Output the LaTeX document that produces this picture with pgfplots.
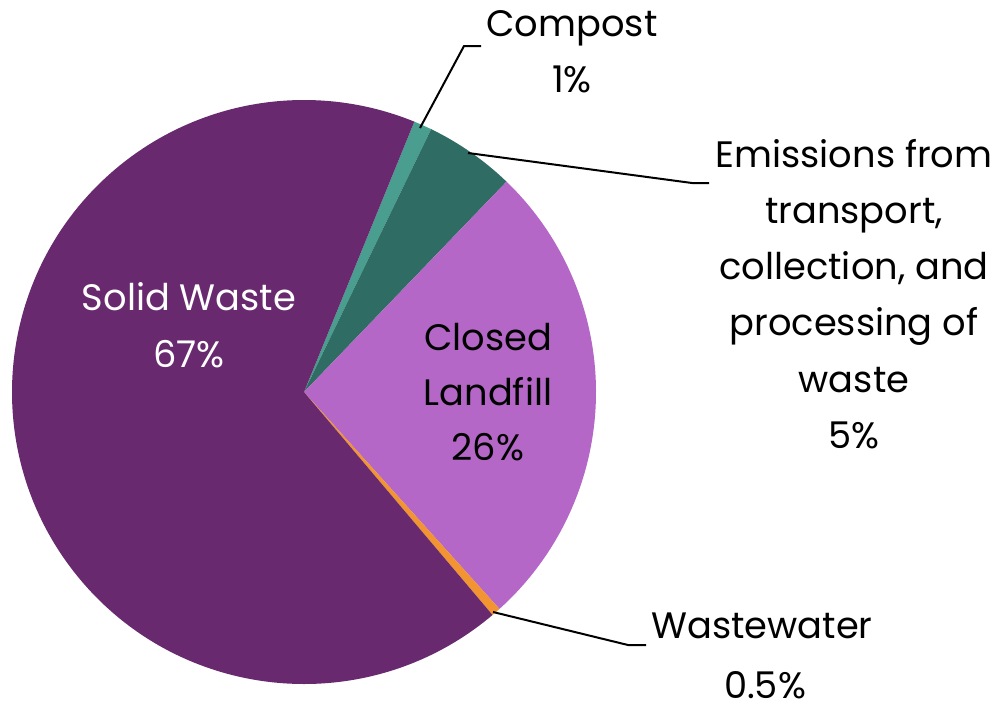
\documentclass[border=0pt]{standalone}
\usepackage{pgfplots}
\pgfplotsset{compat=1.18}
\usepackage{pgfplotstable}
\usepackage{fontspec}
\setmainfont{Poppins}

\definecolor{cSolid}{HTML}{68296F}
\definecolor{cCompost}{HTML}{4A9E90}
\definecolor{cEmis}{HTML}{2F6C63}
\definecolor{cLand}{HTML}{B467C6}
\definecolor{cWater}{HTML}{F19431}

% shares in clockwise order, starting at the Solid Waste / Compost edge
\pgfplotstableread[col sep=comma]{
slice,value
Compost,1
Emissions,5
Closed Landfill,26
Wastewater,0.5
Solid Waste,67
}\piedata

% slice edges (degrees, counter-clockwise from +x)
\pgfmathsetmacro\total{99.5}
\def\angA{67.8}
\pgfplotstablegetelem{0}{value}\of\piedata
\pgfmathsetmacro\angB{\angA-\pgfplotsretval/\total*360}
\pgfplotstablegetelem{1}{value}\of\piedata
\pgfmathsetmacro\angC{\angB-\pgfplotsretval/\total*360}
\pgfplotstablegetelem{2}{value}\of\piedata
\pgfmathsetmacro\angD{\angC-\pgfplotsretval/\total*360}
\pgfplotstablegetelem{3}{value}\of\piedata
\pgfmathsetmacro\angE{\angD-\pgfplotsretval/\total*360}
\pgfplotstablegetelem{4}{value}\of\piedata
\pgfmathsetmacro\angF{\angE-\pgfplotsretval/\total*360}

\begin{document}
\begin{tikzpicture}
\begin{axis}[
    width=501bp, height=354bp,
    scale only axis,
    xmin=0, xmax=1002,
    ymin=0, ymax=708,
    y dir=reverse,
    hide axis,
    clip=false,
]
\coordinate (bl) at (axis cs:0,708);
\coordinate (tr) at (axis cs:1002,0);

\fill[cCompost] (axis cs:304,392) -- ([shift={(\angA:146bp)}]axis cs:304,392)
    arc[start angle=\angA, end angle=\angB, radius=146bp] -- cycle;
\fill[cEmis] (axis cs:304,392) -- ([shift={(\angB:146bp)}]axis cs:304,392)
    arc[start angle=\angB, end angle=\angC, radius=146bp] -- cycle;
\fill[cLand] (axis cs:304,392) -- ([shift={(\angC:146bp)}]axis cs:304,392)
    arc[start angle=\angC, end angle=\angD, radius=146bp] -- cycle;
\fill[cWater] (axis cs:304,392) -- ([shift={(\angD:146bp)}]axis cs:304,392)
    arc[start angle=\angD, end angle=\angE, radius=146bp] -- cycle;
\fill[cSolid] (axis cs:304,392) -- ([shift={(\angE:146bp)}]axis cs:304,392)
    arc[start angle=\angE, end angle=\angF, radius=146bp] -- cycle;

% leader lines
\draw[line width=1bp] (axis cs:420,128) -- (axis cs:464,46) -- (axis cs:481,46);
\draw[line width=1bp] (axis cs:468,153) -- (axis cs:692,183) -- (axis cs:709,183);
\draw[line width=1bp] (axis cs:493,612) -- (axis cs:628,645) -- (axis cs:646,645);

\tikzset{lbl/.style={anchor=base, inner sep=0pt, font=\fontsize{18.4bp}{28bp}\selectfont}}
\node[lbl] at (axis cs:572,36) {Compost};
\node[lbl] at (axis cs:572,92) {1\%};

\node[lbl] at (axis cs:854,167) {Emissions from};
\node[lbl] at (axis cs:854,223) {transport,};
\node[lbl] at (axis cs:854,279) {collection, and};
\node[lbl] at (axis cs:854,335) {processing of};
\node[lbl] at (axis cs:854,392) {waste};
\node[lbl] at (axis cs:854,448) {5\%};

\node[lbl, white] at (axis cs:189,310) {Solid Waste};
\node[lbl, white] at (axis cs:189,367) {67\%};

\node[lbl] at (axis cs:488,350) {Closed};
\node[lbl] at (axis cs:488,405) {Landfill};
\node[lbl] at (axis cs:488,460) {26\%};

\node[lbl] at (axis cs:762,638) {Wastewater};
\node[lbl] at (axis cs:765,698) {0.5\%};
\end{axis}
\pgfresetboundingbox
\path[use as bounding box] (bl) rectangle (tr);
\end{tikzpicture}
\end{document}
